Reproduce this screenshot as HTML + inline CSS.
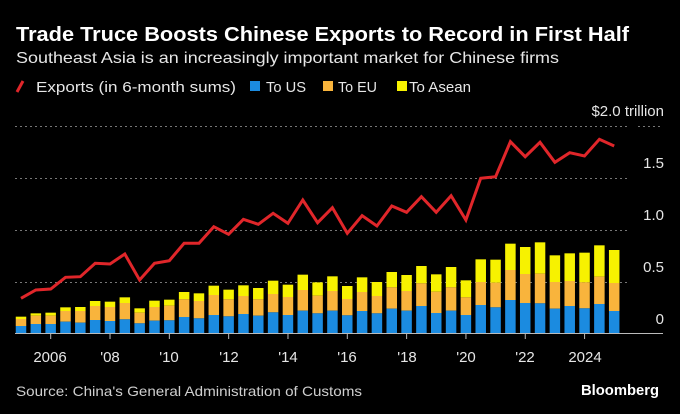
<!DOCTYPE html>
<html><head><meta charset="utf-8"><style>
html,body{margin:0;padding:0;background:#000;}
svg{display:block;font-family:"Liberation Sans",sans-serif;}
</style></head><body>
<svg id="s" width="680" height="414" viewBox="0 0 680 414" xmlns="http://www.w3.org/2000/svg">
<rect width="680" height="414" fill="#000"/>
<text x="16" y="41" fill="#fff" font-size="20" font-weight="bold" textLength="613" lengthAdjust="spacingAndGlyphs">Trade Truce Boosts Chinese Exports to Record in First Half</text>
<text x="16" y="63" fill="#e6e6e6" font-size="16" textLength="543" lengthAdjust="spacingAndGlyphs">Southeast Asia is an increasingly important market for Chinese firms</text>
<line x1="17" y1="92" x2="23" y2="81" stroke="#e0262a" stroke-width="3"/>
<text x="36" y="92" fill="#e6e6e6" font-size="15" textLength="200" lengthAdjust="spacingAndGlyphs">Exports (in 6-month sums)</text>
<rect x="250" y="81" width="10" height="10" fill="#1b8be0"/>
<text x="266" y="92" fill="#e6e6e6" font-size="15" textLength="40" lengthAdjust="spacingAndGlyphs">To US</text>
<rect x="323" y="81" width="10" height="10" fill="#f9b43c"/>
<text x="338" y="92" fill="#e6e6e6" font-size="15" textLength="39" lengthAdjust="spacingAndGlyphs">To EU</text>
<rect x="397" y="81" width="10" height="10" fill="#f7f200"/>
<text x="409" y="92" fill="#e6e6e6" font-size="15" textLength="62" lengthAdjust="spacingAndGlyphs">To Asean</text>
<g stroke="#777" stroke-width="1" stroke-dasharray="2,3">
<line x1="15" y1="126.5" x2="629" y2="126.5"/><line x1="638" y1="126.5" x2="663" y2="126.5"/>
<line x1="15" y1="178.5" x2="629" y2="178.5"/>
<line x1="15" y1="230.5" x2="629" y2="230.5"/>
<line x1="15" y1="282.5" x2="629" y2="282.5"/>
</g>
<g fill="#e6e6e6" font-size="15" text-anchor="end">
<text x="664" y="116">$2.0 trillion</text>
<text x="664" y="168">1.5</text>
<text x="664" y="220">1.0</text>
<text x="664" y="272">0.5</text>
<text x="664" y="324">0</text>
</g>
<g id="bars"></g>
<line x1="15" y1="333.5" x2="663" y2="333.5" stroke="#bbb" stroke-width="1"/>
<g id="ticks" stroke="#bbb" stroke-width="1"></g>
<g fill="#e6e6e6" font-size="15" text-anchor="middle">
<text x="50" y="362">2006</text>
<text x="110" y="362">'08</text>
<text x="169" y="362">'10</text>
<text x="229" y="362">'12</text>
<text x="288" y="362">'14</text>
<text x="347" y="362">'16</text>
<text x="407" y="362">'18</text>
<text x="466" y="362">'20</text>
<text x="525" y="362">'22</text>
<text x="585" y="362">2024</text>
</g>
<polyline id="ln" fill="none" stroke="#e0262a" stroke-width="3" stroke-linejoin="miter"/>
<text x="16" y="396" fill="#cfcfcf" font-size="14" textLength="346" lengthAdjust="spacingAndGlyphs">Source: China's General Administration of Customs</text>
<text x="659" y="395" fill="#fff" font-size="15" font-weight="bold" text-anchor="end" textLength="78" lengthAdjust="spacingAndGlyphs">Bloomberg</text>
</svg>
<script>
var ly=[298.3,290,289,277.3,276.7,263.3,264,254,280,263.3,260.7,243.3,243.3,226.7,234.3,219.3,224.3,213.3,223.3,200,222.7,207.7,233.3,215.7,226,206,212.3,196.7,212.3,195.7,220,178.3,176.7,141.7,156.7,142.3,162.3,152.7,156,139.3,146];
var b=[[650,657,678],[640,647,672],[638,647,672],[622,633,665],[621,633,668],[603,618,660],[605,621,663],[592,609,658],[625,638,670],[602,621,662],[599,617,661],[576,598,651],[580,603,655],[557,585,645],[569,598,649],[556,588,642],[564,598,647],[542,582,637],[554,591,645],[524,570,632],[547,587,640],[529,573,632],[558,597,646],[532,576,633],[546,588,640],[516,562,626],[525,573,632],[498,550,618],[523,575,639],[501,562,632],[541,592,645],[478,546,615],[479,548,622],[431,510,600],[441,522,609],[427,521,610],[466,546,626],[460,543,618],[458,547,625],[436,530,612],[450,549,633]];
var ns="http://www.w3.org/2000/svg",g=document.getElementById("bars"),pts=[];
function r(x,y1,y2,c){var e=document.createElementNS(ns,"rect");e.setAttribute("x",x);e.setAttribute("y",y1);e.setAttribute("width",10.5);e.setAttribute("height",Math.max(0,y2-y1));e.setAttribute("fill",c);g.appendChild(e);}
for(var i=0;i<41;i++){var cx=21+14.83*i,x=cx-5.25,t=b[i].map(function(v){return 100+v/3;}),base=333.3;
r(x,t[0],t[1],"#f7f200");r(x,t[1],t[2],"#f9b43c");r(x,t[2],base,"#1b8be0");
pts.push(cx.toFixed(1)+","+ly[i]);}
document.getElementById("ln").setAttribute("points",pts.join(" "));
var tk=document.getElementById("ticks");
for(var j=0;j<10;j++){var tx=50.7+29.66*2*j;var l=document.createElementNS(ns,"line");l.setAttribute("x1",tx);l.setAttribute("x2",tx);l.setAttribute("y1",334);l.setAttribute("y2",339);tk.appendChild(l);}
</script>
</body></html>
